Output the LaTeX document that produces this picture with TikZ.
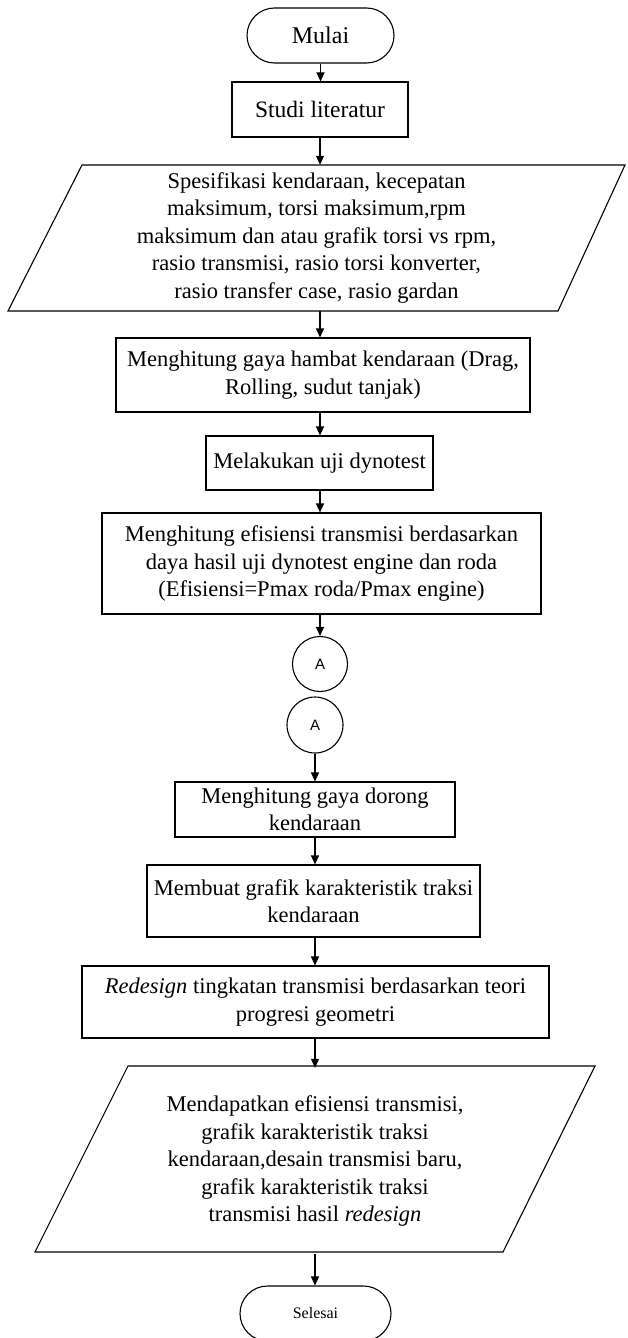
\documentclass[tikz,border=0pt]{standalone}
\usepackage{fontspec}
\setmainfont{Liberation Serif}
\newfontfamily\arialfont{Liberation Sans}
\usetikzlibrary{arrows.meta}
\begin{document}
\begin{tikzpicture}[x=1pt,y=-1pt,
  lw/.style={line width=1.1pt},
  txt/.style={inner sep=0pt, align=center, font=\fontsize{22.5}{27.5}\selectfont},
  box/.style={txt, draw, lw},
  term/.style={box, rounded corners=27.5pt},
  conn/.style={draw, lw, circle, inner sep=0pt, font=\arialfont\fontsize{15}{18}\selectfont},
  arr/.style={lw, -{Triangle[length=9pt,width=8pt]}}]
\useasboundingbox (0,0) rectangle (627,1338);
% nodes
\node[term, minimum width=147pt, minimum height=55pt, font=\fontsize{24}{28}\selectfont] (start) at (320.5,35.5) {Mulai};
\node[box, minimum width=176pt, minimum height=55pt, font=\fontsize{23.5}{28}\selectfont] (lit) at (320,109.5) {Studi literatur};
\draw[lw] (82,165) -- (625,165) -- (558,311) -- (8,311) -- cycle;
\node[txt, minimum height=146pt] (spec) at (316.5,238) {Spesifikasi kendaraan, kecepatan\\maksimum, torsi maksimum,rpm\\maksimum dan atau grafik torsi vs rpm,\\rasio transmisi, rasio torsi konverter,\\rasio transfer case, rasio gardan};
\node[box, minimum width=414pt, minimum height=74pt] (drag) at (323,375) {Menghitung gaya hambat kendaraan (Drag,\\Rolling, sudut tanjak)};
\node[box, minimum width=227pt, minimum height=54pt] (dyno) at (319.5,463) {Melakukan uji dynotest};
\node[box, minimum width=439pt, minimum height=101pt] (eff) at (321.5,563.5) {Menghitung efisiensi transmisi berdasarkan\\daya hasil uji dynotest engine dan roda\\(Efisiensi=Pmax roda/Pmax engine)};
\node[conn, minimum size=55pt] (A1) at (320,664) {A};
\node[conn, minimum size=56pt] (A2) at (315,725) {A};
\node[box, minimum width=280pt, minimum height=55pt] (dorong) at (315,809.5) {Menghitung gaya dorong\\kendaraan};
\node[box, minimum width=333pt, minimum height=72pt] (traksi) at (313.5,901) {Membuat grafik karakteristik traksi\\kendaraan};
\node[box, minimum width=467pt, minimum height=72pt] (redes) at (315.5,1002) {\textit{Redesign} tingkatan transmisi berdasarkan teori\\progresi geometri};
\draw[lw] (128,1066) -- (595,1066) -- (503,1252) -- (35,1252) -- cycle;
\node[txt, minimum height=186pt] (out) at (315,1161) {Mendapatkan efisiensi transmisi,\\grafik karakteristik traksi\\kendaraan,desain transmisi baru,\\grafik karakteristik traksi\\transmisi hasil \textit{redesign}};
\node[term, minimum width=151pt, minimum height=55pt, font=\fontsize{16}{19}\selectfont] (end) at (315.5,1313.5) {Selesai};
% connectors
\draw[arr] (start.south) -- (start.south |- lit.north);
\draw[arr] (lit.south) -- (lit.south |- spec.north);
\draw[arr] (lit.south |- spec.south) -- (lit.south |- drag.north);
\draw[arr] (lit.south |- drag.south) -- (lit.south |- dyno.north);
\draw[arr] (lit.south |- dyno.south) -- (lit.south |- eff.north);
\draw[arr] (A1.north |- eff.south) -- (A1.north);
\draw[arr] (A2.south) -- (A2.south |- dorong.north);
\draw[arr] (dorong.south) -- (dorong.south |- traksi.north);
\draw[arr] (dorong.south |- traksi.south) -- (dorong.south |- redes.north);
\draw[arr] (dorong.south |- redes.south) -- (dorong.south |- out.north);
\draw[arr] (dorong.south |- out.south) -- (dorong.south |- end.north);
\end{tikzpicture}
\end{document}
